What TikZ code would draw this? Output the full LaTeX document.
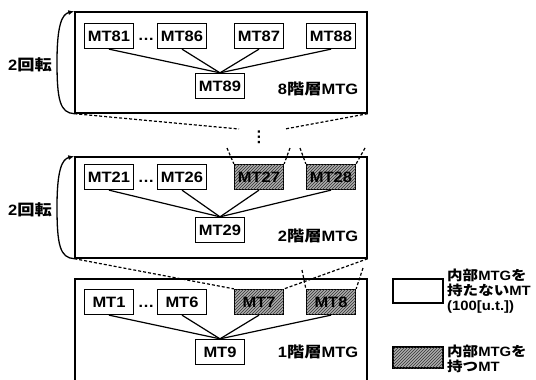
\documentclass[tikz,border=0pt]{standalone}
\usepackage{fontspec}
\setmainfont{Liberation Sans}[FakeStretch=1.1, BoldFeatures={FakeStretch=1.1}]
\newfontfamily\jp{Noto Sans CJK JP}[FakeStretch=1.15, BoldFeatures={FakeStretch=1.15}]
\usetikzlibrary{patterns,arrows.meta}
\begin{document}
\begin{tikzpicture}[x=1pt,y=-1pt,
  font=\fontsize{15}{17}\selectfont\bfseries,
  mt/.style={draw, line width=1.3pt, minimum width=49pt, minimum height=25pt, inner sep=0pt, fill=white},
  mtin/.style={mt, fill=gray!65, postaction={pattern=north east lines, pattern color=black!80}},
  grp/.style={draw, line width=1.4pt, inner sep=0pt},
  link/.style={line width=1.2pt},
  dsh/.style={dash pattern=on 3pt off 2pt, line width=1.2pt},
  rot/.style={line width=1.3pt, -{Latex[length=6pt,width=5pt]}},
  lbl/.style={inner sep=0pt},
  dots/.style={inner sep=0pt, font=\fontsize{15}{15}\selectfont\bfseries},
  leg/.style={inner sep=0pt, align=left, anchor=west, font=\fontsize{13.5}{14.8}\selectfont\bfseries}]
\useasboundingbox (0,0) rectangle (536,380);

% ---------- level 8 ----------
\node[grp, minimum width=292pt, minimum height=101pt] (L8) at (221,62.5) {};
\node[mt] (m81) at (109,36) {MT81};
\node[mt] (m86) at (182,36) {MT86};
\node[mt] (m87) at (259,36) {MT87};
\node[mt] (m88) at (331,36) {MT88};
\node[mt] (m89) at (220,86) {MT89};
\node[dots, anchor=base] (d8) at (146,41) {…};
\foreach \n in {m81,m86,m87,m88} \draw[link] (\n.south) -- (m89.north);
\node[lbl] (t8) at (318,89) {8{\jp 階層}MTG};
\coordinate (a8) at (57,62);
\draw[rot] (L8.south west) .. controls (60,113) and (57,100) .. (a8) .. controls (57,25) and (62,14) .. (L8.north west);
\node[lbl] (r8) at (30,65) {2{\jp 回転}};

% ---------- level 2 ----------
\node[grp, minimum width=292pt, minimum height=101pt] (L2) at (221,207.5) {};
\node[mt] (m21) at (109,177) {MT21};
\node[mt] (m26) at (182,177) {MT26};
\node[mtin] (m27) at (259,177) {MT27};
\node[mtin] (m28) at (331,177) {MT28};
\node[mt] (m29) at (220,230) {MT29};
\node[dots, anchor=base] (d2) at (146,182) {…};
\foreach \n in {m21,m26,m27,m28} \draw[link] (\n.south) -- (m29.north);
\node[lbl] (t2) at (318,236) {2{\jp 階層}MTG};
\coordinate (a2) at (57,207);
\draw[rot] (L2.south west) .. controls (60,258) and (57,245) .. (a2) .. controls (57,170) and (62,159) .. (L2.north west);
\node[lbl] (r2) at (30,210) {2{\jp 回転}};

% ---------- level 1 ----------
\coordinate (b1a) at (75,381);
\coordinate (b1b) at (75,279);
\coordinate (b1c) at (367,279);
\coordinate (b1d) at (367,381);
\draw[line width=1.4pt] (b1a) -- (b1b) -- (b1c) -- (b1d);
\node[mt] (m1) at (109,302) {MT1};
\node[mt] (m6) at (182,302) {MT6};
\node[mtin] (m7) at (259,302) {MT7};
\node[mtin] (m8) at (331,302) {MT8};
\node[mt] (m9) at (220,352) {MT9};
\node[dots, anchor=base] (d1) at (146,307) {…};
\foreach \n in {m1,m6,m7,m8} \draw[link] (\n.south) -- (m9.north);
\node[lbl] (t1) at (318,352) {1{\jp 階層}MTG};

% ---------- expansion (dashed) lines ----------
\coordinate (e1) at (239,129);
\coordinate (e2) at (285,129);
\coordinate (e3) at (227,148);
\coordinate (e4) at (290,148);
\coordinate (e5) at (300,148);
\coordinate (e6) at (365,148);
\draw[dsh] (L8.south west) -- (e1);
\draw[dsh] (L8.south east) -- (e2);
\draw[dsh] (e3) -- (m27.north west);
\draw[dsh] (e4) -- (m27.north east);
\draw[dsh] (e5) -- (m28.north west);
\draw[dsh] (e6) -- (m28.north east);
\node[dots] (vd) at (259,137) {\rotatebox{90}{…}};

\coordinate (f1) at (302,270);
\coordinate (f2) at (363,268);
\draw[dsh] (L2.south west) -- (m7.north west);
\draw[dsh] (L2.south east) -- (m7.north east);
\draw[dsh] (f1) -- (m8.north west);
\draw[dsh] (f2) -- (m8.north east);

% ---------- legend ----------
\node[draw, line width=1.3pt, minimum width=50pt, minimum height=24pt, inner sep=0pt] (lw) at (418,291) {};
\node[leg] (lwt) at (447,291) {{\jp 内部}MTG{\jp を}\\{\jp 持たない}MT\\(100[u.t.])};
\node[draw, line width=1.3pt, minimum width=50pt, minimum height=21pt, inner sep=0pt, fill=gray!65, postaction={pattern=north east lines, pattern color=black!80}] (lg) at (418,357.5) {};
\node[leg] (lgt) at (447,359) {{\jp 内部}MTG{\jp を}\\{\jp 持つ}MT};
\end{tikzpicture}
\end{document}
